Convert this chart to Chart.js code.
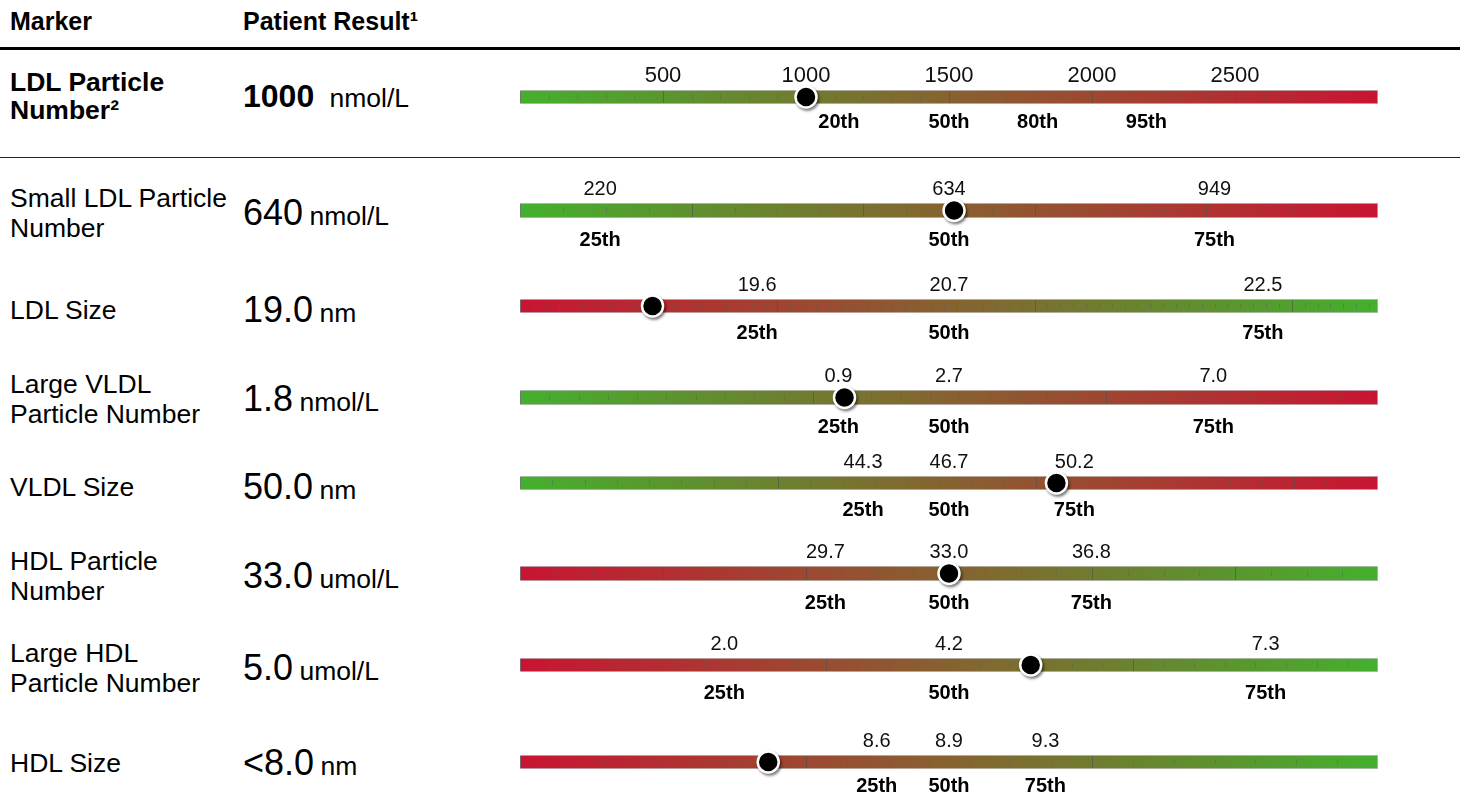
<!DOCTYPE html>
<html>
<head>
<meta charset="utf-8">
<script src="https://cdn.jsdelivr.net/npm/chart.js@4.4.0/dist/chart.umd.min.js"></script>
<style>
  body { margin: 0; width: 1465px; height: 797px; background: #fff; color: #000;
         font-family: "Liberation Sans", Arial, sans-serif; position: relative; overflow: hidden; }
  .hdr { position: absolute; top: 21px; font-size: 25px; font-weight: bold; line-height: 1; transform: translateY(-50%); white-space: nowrap; }
  .rule { position: absolute; left: 0; width: 1460px; background: #000; }
  .name { position: absolute; left: 10px; font-size: 26.5px; line-height: 30px; white-space: pre-line; transform: translateY(-50%); }
  .name.first { font-weight: bold; font-size: 26.5px; line-height: 28px; }
  .val { position: absolute; left: 243px; white-space: nowrap; line-height: 1; transform: translateY(-50%); }
  .val .num { font-size: 36px; }
  .val .unit { font-size: 26.5px; margin-left: -1px; }
  .val.first .num { font-weight: bold; font-size: 32px; }
  .val.first .unit { margin-left: 8px; }
  .bar { position: absolute; left: 480px; width: 938px; }
</style>
</head>
<body>
<div class="hdr" style="left:10px">Marker</div>
<div class="hdr" style="left:243px">Patient Result¹</div>
<div class="rule" style="top:47px;height:3px"></div>
<div class="rule" style="top:157px;height:1px;background:#222"></div>
<div id="rows"></div>

<script>
// rows
const markerNames = [
  'LDL Particle\nNumber²',
  'Small LDL Particle\nNumber',
  'LDL Size',
  'Large VLDL\nParticle Number',
  'VLDL Size',
  'HDL Particle\nNumber',
  'Large HDL\nParticle Number',
  'HDL Size'
];
const resultValues = ['1000', '640', '19.0', '1.8', '50.0', '33.0', '5.0', '<8.0'];
const resultUnits = ['nmol/L', 'nmol/L', 'nm', 'nmol/L', 'nm', 'umol/L', 'umol/L', 'nm'];

// where the dot sits on each bar
const dotValues = [1000, 640, 19.0, 1.0, 49.7, 33.0, 5.0, 8.15];

// axis range of each bar
const axisMin = [0, 125, 18.24, -4.28, 34.72, 21.55, 0, 7.12];
const axisMax = [3000, 1143, 23.16, 9.68, 58.68, 44.45, 8.4, 10.68];

// tick labels above the bars
const refLabels = [
  ['500', '1000', '1500', '2000', '2500'],
  ['220', '634', '949'],
  ['19.6', '20.7', '22.5'],
  ['0.9', '2.7', '7.0'],
  ['44.3', '46.7', '50.2'],
  ['29.7', '33.0', '36.8'],
  ['2.0', '4.2', '7.3'],
  ['8.6', '8.9', '9.3']
];

// percentile labels below the bars
const pctValues = [
  [1115, 1500, 1810, 2190],
  [220, 634, 949],
  [19.6, 20.7, 22.5],
  [0.9, 2.7, 7.0],
  [44.3, 46.7, 50.2],
  [29.7, 33.0, 36.8],
  [2.0, 4.2, 7.3],
  [8.6, 8.9, 9.3]
];
const pctLabels = [
  ['20th', '50th', '80th', '95th'],
  ['25th', '50th', '75th'],
  ['25th', '50th', '75th'],
  ['25th', '50th', '75th'],
  ['25th', '50th', '75th'],
  ['25th', '50th', '75th'],
  ['25th', '50th', '75th'],
  ['25th', '50th', '75th']
];

// true = green on the left (low is good)
const greenLeft = [true, true, false, true, true, false, false, false];

// little tick marks inside the bars
const minorCount = [30, 20, 66.7, 29.3, 26.6, 24, 28, 21];
const majorEvery = [5, 4, 20, 10, 8, 4, 10, 7];

// layout
const barY = [97, 210, 306, 397, 483, 573, 665, 762];
const textY = [96, 213, 310, 399, 487, 576, 668, 763];
const belowPad = [6.5, 10, 8, 10, 8, 10, 9, 5];
const GREEN = 'rgb(68,176,46)';
const RED = 'rgb(201,20,50)';
const BAR_H = 14;

const segTicks = {
  id: 'segTicks',
  afterDatasetDraw(chart, args, opts) {
    if (args.index !== 0) return;
    const seg = chart.scales.seg;
    const { top, bottom } = chart.chartArea;
    const mid = (top + bottom) / 2;
    const c = chart.ctx;
    c.save();
    c.lineWidth = 1;
    for (let k = 0; k < opts.count; k++) {
      const x = Math.round(seg.getPixelForValue(k)) + 0.5;
      const major = k % opts.major === 0;
      c.strokeStyle = major ? 'rgba(80,80,80,0.6)' : 'rgba(90,90,90,0.35)';
      c.beginPath();
      c.moveTo(x, major ? top + 1 : mid - 3);
      c.lineTo(x, major ? bottom - 1 : mid + 3);
      c.stroke();
    }
    c.restore();
  }
};

const dotShadow = {
  id: 'dotShadow',
  beforeDatasetDraw(chart, args) {
    if (args.index !== 1) return;
    const c = chart.ctx;
    c.save();
    c.shadowColor = 'rgba(0,0,0,0.45)';
    c.shadowBlur = 3;
    c.shadowOffsetX = 1.5;
    c.shadowOffsetY = 2;
  },
  afterDatasetDraw(chart, args) {
    if (args.index !== 1) return;
    chart.ctx.restore();
  }
};

const rowsEl = document.getElementById('rows');

markerNames.forEach(function (name, i) {
  const first = i === 0;

  const nm = document.createElement('div');
  nm.className = 'name' + (first ? ' first' : '');
  nm.style.top = textY[i] + 'px';
  nm.textContent = name;
  rowsEl.appendChild(nm);

  const val = document.createElement('div');
  val.className = 'val' + (first ? ' first' : '');
  val.style.top = textY[i] + 'px';
  val.innerHTML = '<span class="num"></span><span class="unit"></span>';
  val.querySelector('.num').textContent = resultValues[i];
  val.querySelector('.unit').textContent = ' ' + resultUnits[i];
  rowsEl.appendChild(val);

  const topFont = first ? 22 : 20;
  const topPad = first ? 1.3 : 2;
  const botPad = belowPad[i];
  const topH = topFont * 1.2 + 2 * topPad;
  const botH = 20 * 1.2 + 2 * botPad;

  const wrap = document.createElement('div');
  wrap.className = 'bar';
  wrap.style.top = (barY[i] - BAR_H / 2 - topH) + 'px';
  const h = Math.round(topH + BAR_H + botH);
  wrap.style.height = h + 'px';
  const cv = document.createElement('canvas');
  cv.width = 938;
  cv.height = h;
  wrap.appendChild(cv);
  rowsEl.appendChild(wrap);

  const leftCol = greenLeft[i] ? GREEN : RED;
  const rightCol = greenLeft[i] ? RED : GREEN;

  new Chart(cv.getContext('2d'), {
    type: 'bar',
    data: {
      labels: ['r'],
      datasets: [{
        data: [[axisMin[i], axisMax[i]]],
        xAxisID: 'x',
        backgroundColor: function (ctx) {
          const a = ctx.chart.chartArea;
          if (!a) return null;
          const g = ctx.chart.ctx.createLinearGradient(a.left, 0, a.right, 0);
          g.addColorStop(0, leftCol);
          g.addColorStop(1, rightCol);
          return g;
        },
        borderColor: 'rgba(185,185,185,0.9)',
        borderWidth: 1,
        borderSkipped: false,
        barPercentage: 1,
        categoryPercentage: 1,
        order: 1
      }, {
        type: 'scatter',
        data: [{ x: dotValues[i], y: 'r' }],
        xAxisID: 'x',
        pointRadius: 10.5,
        pointBackgroundColor: '#000',
        pointBorderColor: '#fff',
        pointBorderWidth: 2.5,
        clip: false,
        order: 0
      }]
    },
    options: {
      indexAxis: 'y',
      responsive: false,
      animation: false,
      layout: { padding: { left: 40, right: 40, top: 0, bottom: 0 } },
      plugins: {
        legend: { display: false },
        tooltip: { enabled: false },
        segTicks: { count: minorCount[i], major: majorEvery[i] }
      },
      scales: {
        x: {
          type: 'linear',
          position: 'top',
          min: axisMin[i],
          max: axisMax[i],
          bounds: 'data',
          grid: { display: false, drawTicks: false },
          border: { display: false },
          afterBuildTicks: function (axis) {
            axis.ticks = refLabels[i].map(function (s) { return { value: parseFloat(s) }; });
          },
          ticks: {
            autoSkip: false,
            maxRotation: 0,
            minRotation: 0,
            padding: topPad,
            color: '#111',
            font: { family: '"Liberation Sans", Arial, sans-serif', size: topFont },
            callback: function (v, idx) { return refLabels[i][idx]; }
          }
        },
        x2: {
          type: 'linear',
          axis: 'x',
          position: 'bottom',
          min: axisMin[i],
          max: axisMax[i],
          bounds: 'data',
          grid: { display: false, drawTicks: false },
          border: { display: false },
          afterBuildTicks: function (axis) {
            axis.ticks = pctValues[i].map(function (v) { return { value: v }; });
          },
          ticks: {
            autoSkip: false,
            maxRotation: 0,
            minRotation: 0,
            padding: botPad,
            color: '#000',
            font: { family: '"Liberation Sans", Arial, sans-serif', size: 20, weight: 'bold' },
            callback: function (v, idx) { return pctLabels[i][idx]; }
          }
        },
        seg: {
          type: 'linear',
          axis: 'x',
          position: 'bottom',
          display: false,
          min: 0,
          max: minorCount[i]
        },
        y: {
          type: 'category',
          display: false
        }
      }
    },
    plugins: [segTicks, dotShadow]
  });
});
</script>
</body>
</html>
